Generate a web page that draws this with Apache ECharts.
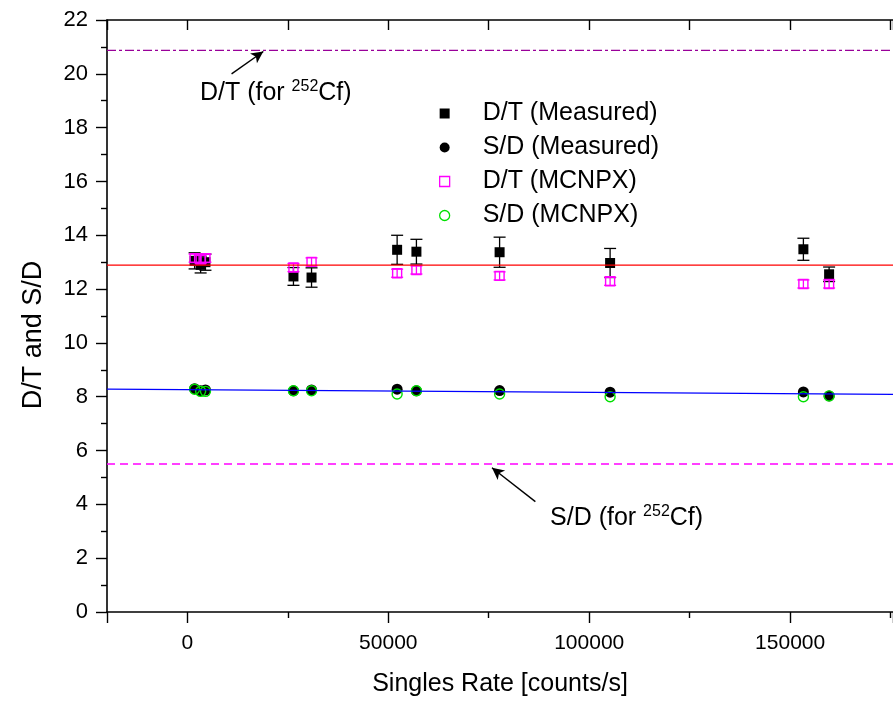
<!DOCTYPE html>
<html>
<head>
<meta charset="utf-8">
<script src="https://cdn.jsdelivr.net/npm/echarts@6/dist/echarts.min.js"></script>
<style>
  html, body { margin: 0; padding: 0; background: #fff; }
  #chart { width: 893px; height: 703px; }
</style>
</head>
<body>
<div id="chart"></div>
<script>
// singles rate of each measurement [counts/s]
var xRate = [1800, 3300, 4500, 26400, 30900, 52200, 57000, 77700, 105200, 153300, 159700];
// D/T measured with errors
var dtMeas = [13.05, 12.9, 13.0, 12.47, 12.43, 13.46, 13.39, 13.37, 12.97, 13.48, 12.55];
var dtErr = [0.3, 0.3, 0.3, 0.33, 0.36, 0.54, 0.46, 0.56, 0.54, 0.41, 0.27];
// D/T from MCNPX
var dtSim = [13.15, 13.1, 13.15, 12.8, 13.01, 12.59, 12.71, 12.49, 12.29, 12.19, 12.19];
var dtSimErr = [0.15, 0.15, 0.15, 0.15, 0.15, 0.15, 0.15, 0.15, 0.15, 0.15, 0.15];
// S/D measured and MCNPX
var sdMeas = [8.3, 8.22, 8.25, 8.22, 8.25, 8.28, 8.22, 8.23, 8.17, 8.18, 8.03];
var sdSim = [8.28, 8.2, 8.2, 8.22, 8.22, 8.1, 8.22, 8.1, 8.0, 8.0, 8.03];
// fitted lines and 252Cf reference values
var lineX = [-20000, 175600];
var dtFit = [12.89, 12.89];
var sdFit = [8.28, 8.085];
var cfDT = 20.87;
var cfSD = 5.5;

var xMin = -20000, xMax = 175600;
var font = 'Liberation Sans, Arial, sans-serif';

function pairs(xs, ys) {
    return xs.map(function (x, i) { return [x, ys[i]]; });
}
function errData(xs, ys, es) {
    return xs.map(function (x, i) { return [x, ys[i] - es[i], ys[i] + es[i]]; });
}
function errRender(color, cap) {
    return function (params, api) {
        var x = api.value(0);
        var top = api.coord([x, api.value(2)]);
        var bot = api.coord([x, api.value(1)]);
        var st = { stroke: color, lineWidth: 1.3 };
        return {
            type: 'group',
            children: [
                { type: 'line', shape: { x1: top[0], y1: top[1], x2: bot[0], y2: bot[1] }, style: st },
                { type: 'line', shape: { x1: top[0] - cap, y1: top[1], x2: top[0] + cap, y2: top[1] }, style: st },
                { type: 'line', shape: { x1: bot[0] - cap, y1: bot[1], x2: bot[0] + cap, y2: bot[1] }, style: st }
            ]
        };
    };
}

var cfRich = {
    a: { fontSize: 25, fontFamily: font, color: '#000', lineHeight: 28 },
    sup: { fontSize: 16, fontFamily: font, color: '#000', verticalAlign: 'top', lineHeight: 28, padding: [0, 0, 10, 0] }
};

var chart = echarts.init(document.getElementById('chart'));
var option = {
    animation: false,
    backgroundColor: '#fff',
    grid: { left: 107, top: 20, right: 0, bottom: 91 },
    legend: {
        orient: 'vertical',
        left: 434,
        top: 96,
        itemWidth: 10,
        itemHeight: 10,
        itemGap: 9,
        textStyle: { fontFamily: font, fontSize: 25, color: '#000', lineHeight: 25, padding: [0, 0, 0, 28] },
        data: [
            { name: 'D/T (Measured)', icon: 'rect', itemStyle: { color: '#000' } },
            { name: 'S/D (Measured)', icon: 'circle', itemStyle: { color: '#000' } },
            { name: 'D/T (MCNPX)', icon: 'rect', itemStyle: { color: '#fff', borderColor: '#ff00ff', borderWidth: 1.3 } },
            { name: 'S/D (MCNPX)', icon: 'circle', itemStyle: { color: '#fff', borderColor: '#00e000', borderWidth: 1.3 } }
        ]
    },
    xAxis: [{
        type: 'value',
        min: xMin,
        max: xMax,
        splitNumber: 4,
        name: 'Singles Rate [counts/s]',
        nameLocation: 'middle',
        nameGap: 60,
        nameTextStyle: { fontFamily: font, fontSize: 25, color: '#000' },
        axisLine: { onZero: false, lineStyle: { color: '#000', width: 1.6 } },
        axisTick: { length: 11, lineStyle: { color: '#000', width: 1.4 } },
        minorTick: { show: true, splitNumber: 2, length: 6, lineStyle: { color: '#000', width: 1.4 } },
        axisLabel: {
            fontFamily: font, fontSize: 21, color: '#000', margin: 21,
            showMinLabel: false, showMaxLabel: false,
            formatter: function (v) { return String(v); }
        },
        splitLine: { show: false }
    }, {
        type: 'value',
        position: 'top',
        min: xMin,
        max: xMax,
        splitNumber: 4,
        axisLine: { onZero: false, lineStyle: { color: '#000', width: 1.6 } },
        axisTick: { inside: true, length: 10, lineStyle: { color: '#000', width: 1.4 } },
        minorTick: { show: true, splitNumber: 2, length: 10, lineStyle: { color: '#000', width: 1.4 } },
        axisLabel: { show: false },
        splitLine: { show: false }
    }],
    yAxis: {
        type: 'value',
        min: 0,
        max: 22,
        interval: 2,
        name: 'D/T and S/D',
        nameLocation: 'middle',
        nameGap: 60,
        nameTextStyle: { fontFamily: font, fontSize: 27, color: '#000', padding: [0, 38, 0, 0] },
        axisLine: { show: true, onZero: false, lineStyle: { color: '#000', width: 1.6 } },
        axisTick: { length: 11, lineStyle: { color: '#000', width: 1.4 } },
        minorTick: { show: true, splitNumber: 2, length: 6, lineStyle: { color: '#000', width: 1.4 } },
        axisLabel: { fontFamily: font, fontSize: 22, color: '#000', margin: 19 },
        splitLine: { show: false }
    },
    series: [
        {
            type: 'custom',
            name: 'dtErr',
            renderItem: errRender('#000', 6),
            encode: { x: 0, y: [1, 2] },
            data: errData(xRate, dtMeas, dtErr),
            z: 2
        },
        {
            type: 'scatter',
            name: 'D/T (Measured)',
            symbol: 'rect',
            symbolSize: 10,
            itemStyle: { color: '#000', opacity: 1 },
            data: pairs(xRate, dtMeas),
            z: 3
        },
        {
            type: 'scatter',
            name: 'S/D (Measured)',
            symbol: 'circle',
            symbolSize: 11,
            itemStyle: { color: '#000', opacity: 1 },
            data: pairs(xRate, sdMeas),
            z: 3
        },
        {
            type: 'custom',
            name: 'dtSimErr',
            renderItem: errRender('#ff00ff', 6),
            encode: { x: 0, y: [1, 2] },
            data: errData(xRate, dtSim, dtSimErr),
            z: 4
        },
        {
            type: 'scatter',
            name: 'D/T (MCNPX)',
            symbol: 'rect',
            symbolSize: 9,
            itemStyle: { color: 'rgba(255,255,255,0)', borderColor: '#ff00ff', borderWidth: 1.4, opacity: 1 },
            data: pairs(xRate, dtSim),
            z: 4
        },
        {
            type: 'scatter',
            name: 'S/D (MCNPX)',
            symbol: 'circle',
            symbolSize: 10,
            itemStyle: { color: 'rgba(255,255,255,0)', borderColor: '#00e000', borderWidth: 1.4, opacity: 1 },
            data: pairs(xRate, sdSim),
            z: 4
        },
        {
            type: 'line',
            name: 'dtFit',
            showSymbol: false,
            lineStyle: { color: '#ff0000', width: 1.3 },
            data: pairs(lineX, dtFit),
            z: 5
        },
        {
            type: 'line',
            name: 'sdFit',
            showSymbol: false,
            lineStyle: { color: '#0000ff', width: 1.3 },
            data: pairs(lineX, sdFit),
            z: 5
        },
        {
            type: 'line',
            name: 'cfDT',
            showSymbol: false,
            lineStyle: { color: '#990099', width: 1.4, type: [9, 3, 3, 3] },
            data: pairs(lineX, [cfDT, cfDT]),
            markLine: {
                silent: true,
                symbol: ['none', 'arrow'],
                symbolSize: [9, 12],
                label: { show: false },
                lineStyle: { color: '#000', width: 1.4, type: 'solid' },
                data: [[{ coord: [11000, 20.0] }, { coord: [18900, 20.83] }]]
            },
            markPoint: {
                symbol: 'circle',
                symbolSize: 1,
                itemStyle: { color: 'rgba(0,0,0,0)' },
                label: { show: true, formatter: '{a|D/T (for }{sup|252}{a|Cf)}', rich: cfRich },
                data: [{ coord: [22000, 19.3] }]
            },
            z: 5
        },
        {
            type: 'line',
            name: 'cfSD',
            showSymbol: false,
            lineStyle: { color: '#ff00ff', width: 1.4, type: [8, 5] },
            data: pairs(lineX, [cfSD, cfSD]),
            markLine: {
                silent: true,
                symbol: ['none', 'arrow'],
                symbolSize: [9, 12],
                label: { show: false },
                lineStyle: { color: '#000', width: 1.4, type: 'solid' },
                data: [[{ coord: [86600, 4.1] }, { coord: [75800, 5.36] }]]
            },
            markPoint: {
                symbol: 'circle',
                symbolSize: 1,
                itemStyle: { color: 'rgba(0,0,0,0)' },
                label: { show: true, formatter: '{a|S/D (for }{sup|252}{a|Cf)}', rich: cfRich },
                data: [{ coord: [109300, 3.5] }]
            },
            z: 5
        }
    ]
};
chart.setOption(option);
</script>
</body>
</html>
